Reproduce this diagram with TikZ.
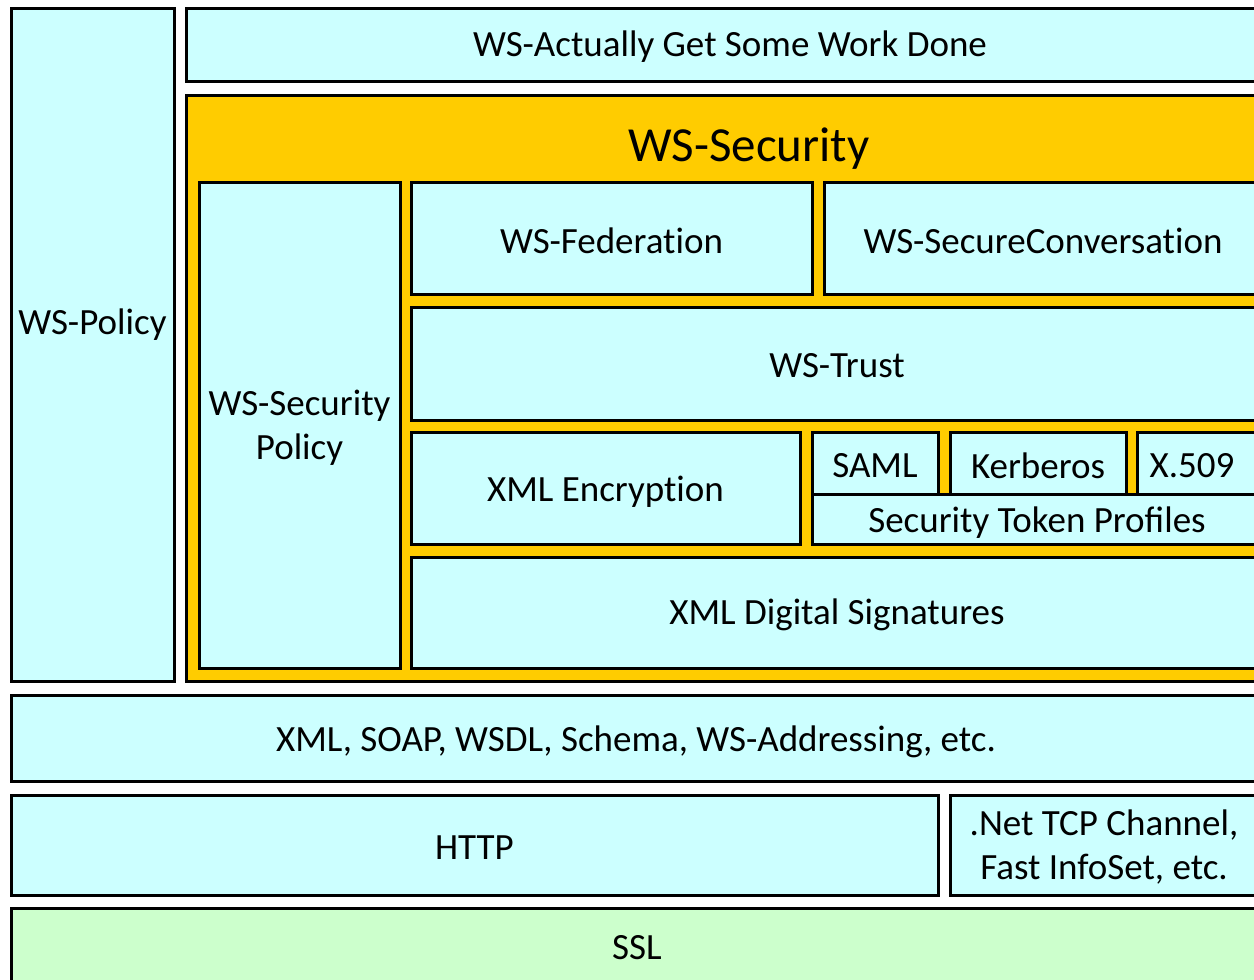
\documentclass[tikz,border=0pt]{standalone}
\usepackage{fontspec}
\setmainfont{Carlito}
\newcommand\tbrk{t\kern0pt}
\definecolor{cy}{HTML}{CCFFFF}
\definecolor{og}{HTML}{FFCC00}
\definecolor{gr}{HTML}{CCFFCC}
\begin{document}
\begin{tikzpicture}[x=1pt,y=-1pt,
  box/.style={draw=black,line width=3pt,fill=cy},
  lbl/.style={font=\fontsize{37}{44}\selectfont,align=center,text=black,inner sep=0pt,yshift=-2.5pt}]
\useasboundingbox (0,0) rectangle (1254,980);
\clip (0,0) rectangle (1254,980);
\fill[white] (0,0) rectangle (1254,980);
% WS-Policy
\draw[box] (11,8) rectangle (174,681);
\node[lbl] (pol) at (92.5,322) {WS-Policy};
\draw[box] (186,8) rectangle (1275,81);
\node[lbl] (work) at (730,44) {WS-Actually Get Some Work Done};
% WS-Security
\draw[box,fill=og] (186,95) rectangle (1275,681);
\node[lbl,font=\fontsize{49}{58}\selectfont] (sec) at (749,146) {WS-Security};
\draw[box] (199,182) rectangle (400,668);
\node[lbl] (secpol) at (299.5,425) {WS-Security\\Policy};
\draw[box] (411,182) rectangle (812,294);
\node[lbl] (fed) at (611.5,238) {WS-Federa\tbrk ion};
\draw[box] (824,182) rectangle (1263,294);
\node[lbl] (conv) at (1043,238) {WS-SecureConversa\tbrk ion};
\draw[box] (411,307) rectangle (1263,420);
\node[lbl] (trust) at (837,363) {WS-Trust};
\draw[box] (411,432) rectangle (800,544);
\node[lbl] (enc) at (605.5,489) {XML Encryp\tbrk ion};
\draw[box] (812,432) rectangle (938,494);
\node[lbl] (saml) at (875,463) {SAML};
\draw[box] (950,432) rectangle (1126,494);
\node[lbl] (kerb) at (1038,463) {Kerberos};
\draw[box] (1137,432) rectangle (1263,494);
\node[lbl] (x509) at (1192,463) {X.509};
\draw[box] (812,494) rectangle (1263,544);
\node[lbl] (stp) at (1037,520) {Security Token Profiles};
\draw[box] (411,557) rectangle (1263,668);
\node[lbl] (dsig) at (837,612) {XML Digital Signatures};
% lower layers
\draw[box] (11,695) rectangle (1263,781);
\node[lbl] (xml) at (636,739) {XML, SOAP, WSDL, Schema, WS-Addressing, etc.};
\draw[box] (11,795) rectangle (938,895);
\node[lbl] (http) at (474.5,845) {HTTP};
\draw[box] (950,795) rectangle (1263,895);
\node[lbl] (net) at (1104,845) {.Net TCP Channel,\\Fast InfoSet, etc.};
\draw[box,fill=gr] (11,908) rectangle (1263,995);
\node[lbl] (ssl) at (637,945) {SSL};
\end{tikzpicture}
\end{document}
